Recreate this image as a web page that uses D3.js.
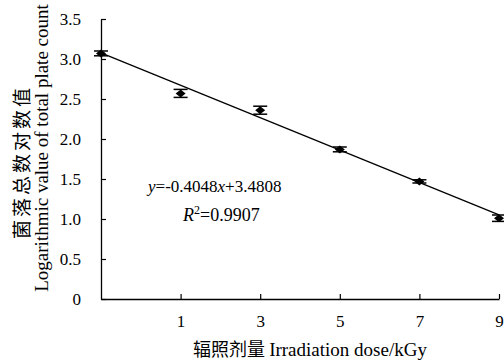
<!DOCTYPE html>
<html>
<head>
<meta charset="utf-8">
<script src="https://cdn.jsdelivr.net/npm/d3@7"></script>
<style>
  body { margin: 0; background: #fff; }
  text { font-family: "Liberation Serif", "Times New Roman", serif; fill: #000; }
  .cjk { font-family: "Noto Sans CJK SC", sans-serif; }
</style>
</head>
<body>
<svg id="chart" width="504" height="363"></svg>
<script>
// chart data
var doseLabels = ["0", "1", "3", "5", "7", "9"];
var logCount   = [3.07, 2.57, 2.36, 1.87, 1.47, 1.01];
var errBar     = [0.03, 0.05, 0.05, 0.03, 0.02, 0.04];
var yTicks     = [0, 0.5, 1.0, 1.5, 2.0, 2.5, 3.0, 3.5];
var fitSlope = -0.4048, fitIntercept = 3.4808;

var svg = d3.select("#chart");
var serif = '"Liberation Serif", "Times New Roman", serif';

var plotLeft = 101, plotRight = 499, plotTop = 19, plotBottom = 299;

var x = d3.scalePoint().domain(doseLabels).range([plotLeft, plotRight]);
var y = d3.scaleLinear().domain([0, 3.5]).range([plotBottom, plotTop]);

// y axis, ticks pointing inside
var yAxis = svg.append("g")
  .attr("transform", "translate(" + plotLeft + ",0)")
  .call(d3.axisRight(y).tickValues(yTicks).tickSize(5).tickSizeOuter(0)
    .tickFormat(function(d) { return d === 0 ? "0" : d3.format(".1f")(d); }));
yAxis.attr("font-family", null).attr("font-size", null);
yAxis.select(".domain").attr("stroke", "#000").attr("stroke-width", 1.3);
yAxis.selectAll(".tick line").attr("stroke", "#000").attr("stroke-width", 1.2);
yAxis.selectAll(".tick text")
  .attr("x", -20).attr("text-anchor", "end").attr("dy", "0.35em")
  .style("font-size", "17px")
  .style("font-family", serif);

// x axis, ticks pointing up
var xAxis = svg.append("g")
  .attr("transform", "translate(0," + plotBottom + ")")
  .call(d3.axisTop(x).tickValues(doseLabels.slice(1)).tickSize(5).tickSizeOuter(0));
xAxis.attr("font-family", null).attr("font-size", null);
xAxis.select(".domain").attr("stroke", "#000").attr("stroke-width", 1.3);
xAxis.selectAll(".tick line").attr("stroke", "#000").attr("stroke-width", 1.2);
xAxis.selectAll(".tick text")
  .attr("y", 28).attr("dy", 0)
  .style("font-size", "17px")
  .style("font-family", serif);

// trendline from the fitted equation (x = point index + 1)
var fit = doseLabels.map(function(d, i) { return [x(d), y(fitSlope * (i + 1) + fitIntercept)]; });
svg.append("path")
  .attr("d", d3.line()([fit[0], fit[fit.length - 1]]))
  .attr("stroke", "#000").attr("stroke-width", 1.3).attr("fill", "none");

// error bars
var eb = svg.append("g");
doseLabels.forEach(function(d, i) {
  var cx = x(d), hi = y(logCount[i] + errBar[i]), lo = y(logCount[i] - errBar[i]);
  eb.append("line").attr("x1", cx).attr("x2", cx).attr("y1", hi).attr("y2", lo)
    .attr("stroke", "#000").attr("stroke-width", 1.2);
  [hi, lo].forEach(function(yy) {
    eb.append("line").attr("x1", cx - 7).attr("x2", cx + 7).attr("y1", yy).attr("y2", yy)
      .attr("stroke", "#000").attr("stroke-width", 1.5);
  });
});

// diamond markers
svg.append("g").selectAll("path")
  .data(logCount)
  .join("path")
  .attr("transform", function(d, i) { return "translate(" + x(doseLabels[i]) + "," + y(d) + ")"; })
  .attr("d", "M-5,0L0,-4L5,0L0,4Z")
  .attr("fill", "#000");

// equation text
var eq = svg.append("text").attr("x", 148).attr("y", 192).style("font-size", "17px").style("font-family", serif);
eq.append("tspan").text("y").style("font-style", "italic");
eq.append("tspan").text("=-0.4048");
eq.append("tspan").text("x").style("font-style", "italic");
eq.append("tspan").text("+3.4808");

var r2 = svg.append("text").attr("x", 183).attr("y", 221).style("font-size", "18px").style("font-family", serif);
r2.append("tspan").text("R").style("font-style", "italic");
r2.append("tspan").text("2").attr("dy", -7).style("font-size", "12px");
r2.append("tspan").text("=0.9907").attr("dy", 7);

// x axis title
var xt = svg.append("text").attr("x", 310).attr("y", 356).attr("text-anchor", "middle")
  .style("font-size", "19px").style("font-family", serif);
xt.append("tspan").attr("class", "cjk").text("辐照剂量 ").style("font-size", "18px");
xt.append("tspan").text("Irradiation dose/kGy");

// y axis titles
svg.append("text")
  .attr("class", "cjk")
  .attr("transform", "translate(29,162) rotate(-90)")
  .attr("text-anchor", "middle")
  .style("font-size", "19px")
  .style("letter-spacing", "3px")
  .text("菌落总数对数值");
svg.append("text")
  .attr("transform", "translate(48,148) rotate(-90)")
  .attr("text-anchor", "middle")
  .style("font-size", "19px")
  .style("font-family", serif)
  .text("Logarithmic value of total plate count");
</script>
</body>
</html>
